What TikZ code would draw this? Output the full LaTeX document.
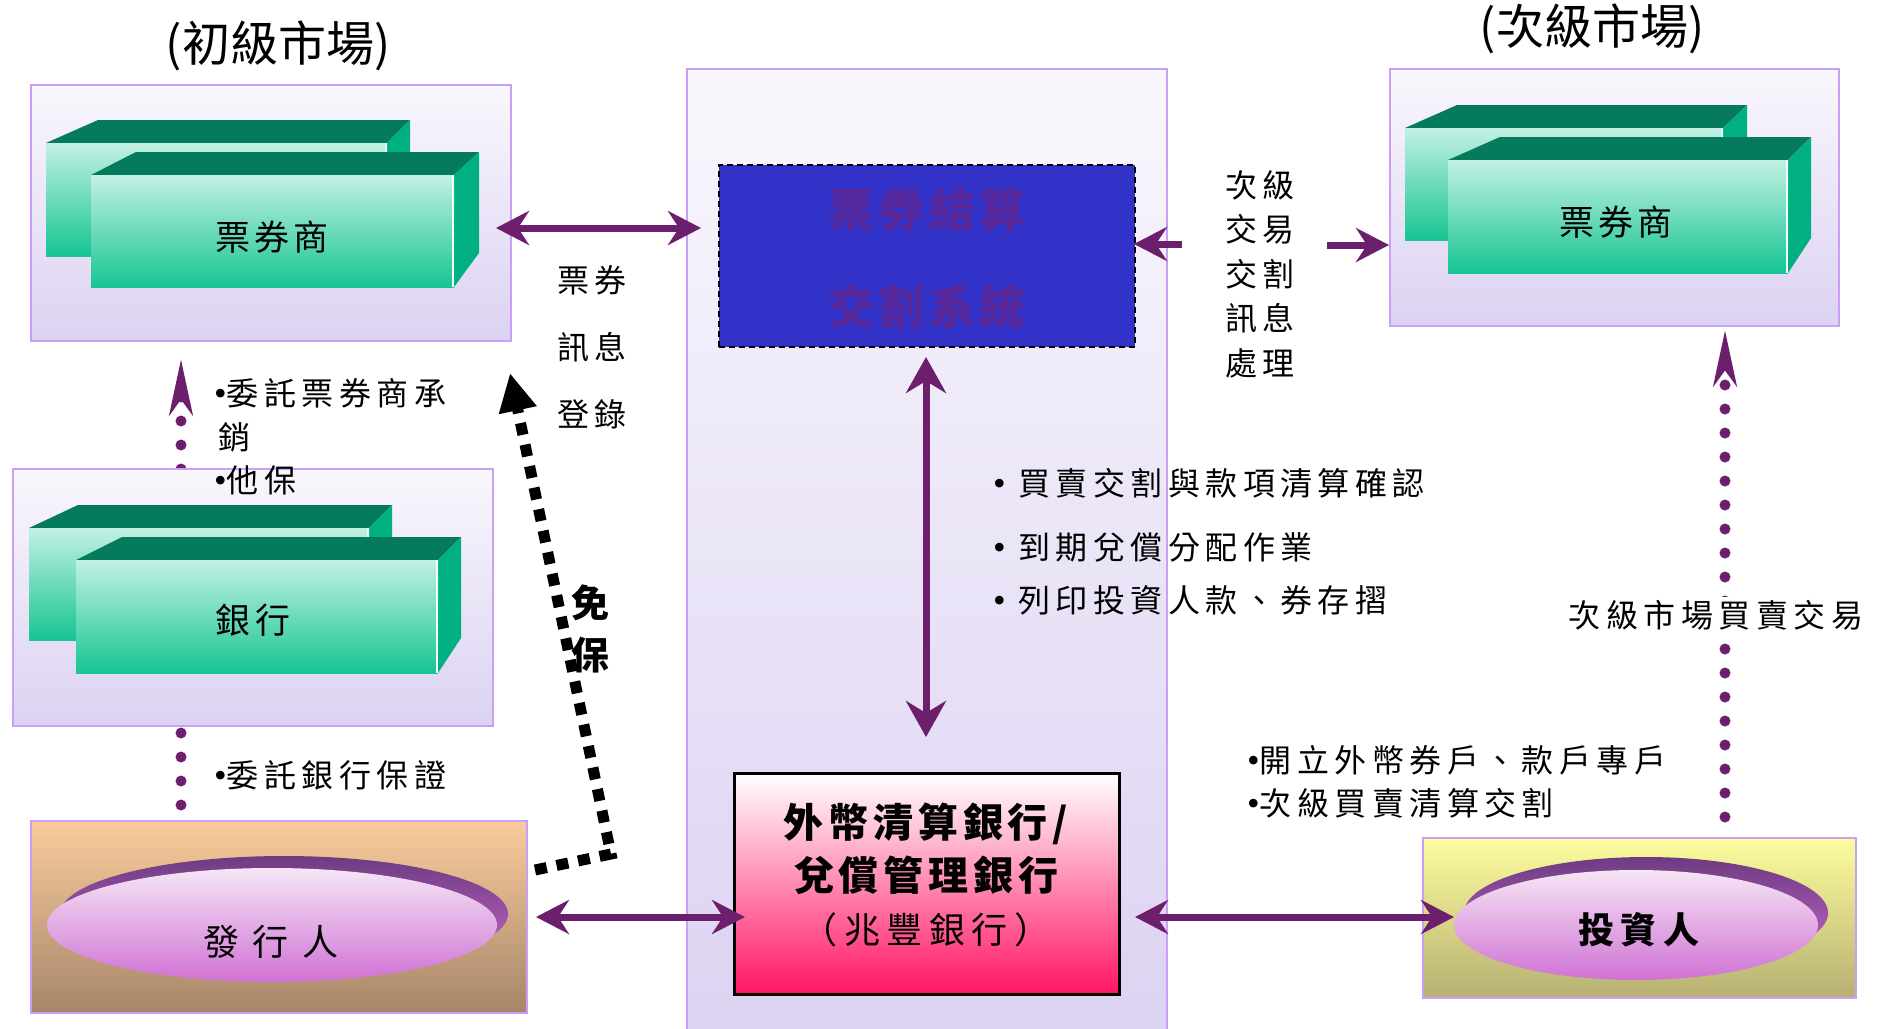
\documentclass[tikz,border=0pt]{standalone}
\usepackage{fontspec}
\setmainfont{Noto Sans CJK TC}
\newfontfamily\bulfont{Liberation Serif}
\newcommand{\bul}{{\bulfont\fontsize{36}{40}\selectfont •}}
\usetikzlibrary{arrows.meta,calc}
\definecolor{panelT}{HTML}{F9F7FD}
\definecolor{panelB}{HTML}{DCD2F2}
\definecolor{panelline}{HTML}{C9A0F5}
\definecolor{arrowc}{HTML}{6C1F6C}
\definecolor{bfrontT}{HTML}{C2F0E4}
\definecolor{bfrontM}{HTML}{96E0C8}
\definecolor{bfrontB}{HTML}{16C592}
\definecolor{btop}{HTML}{057A5C}
\definecolor{bside}{HTML}{00B083}
\definecolor{bluebox}{HTML}{3232C8}
\definecolor{bluetext}{HTML}{58289A}
\definecolor{peachT}{HTML}{FACC9C}
\definecolor{peachB}{HTML}{A6866A}
\definecolor{yelT}{HTML}{FDFD9E}
\definecolor{yelB}{HTML}{B6B072}
\definecolor{ellT}{HTML}{F5E6F5}
\definecolor{ellM}{HTML}{E6C2E8}
\definecolor{ellB}{HTML}{D072D4}
\definecolor{rimT}{HTML}{6E3C82}
\definecolor{rimB}{HTML}{C868CC}
\definecolor{redB}{HTML}{FF1466}
\newcommand{\gblock}[8]{%
  \fill[btop] (#1,#2) -- (#1+#5,#2-#7) -- (#3+#6,#2-#7) -- (#3,#2) -- cycle;
  \fill[bside] (#3,#2) -- (#3+#6,#2-#7) -- (#3+#6,#4-#8) -- (#3,#4) -- cycle;
  \shade[top color=bfrontT, middle color=bfrontM, bottom color=bfrontB] (#1,#2) rectangle (#3,#4);
  \draw[white!70!bfrontT, line width=1.5pt] (#3-1,#2) -- (#3-1,#4);
}
\begin{document}
\begin{tikzpicture}[x=1pt,y=-1pt,
  panel/.style={draw=panelline, line width=2pt, top color=panelT, bottom color=panelB, rectangle, inner sep=0pt, anchor=north west},
  lbl/.style={inner sep=0pt, font=\fontsize{32}{40}\selectfont\addfontfeatures{LetterSpace=17}},
  parrow/.style={draw=arrowc, line width=7pt, {Stealth[length=33pt,width=34pt,inset=11pt]}-{Stealth[length=33pt,width=34pt,inset=11pt]}},
  sarrow/.style={draw=arrowc, line width=7pt, -{Stealth[length=33pt,width=34pt,inset=11pt]}},
  dotline/.style={draw=arrowc, line width=11pt, line cap=round, dash pattern=on 0pt off 24pt, -{Stealth[length=55pt,width=22pt,inset=14pt]}},
  title/.style={inner sep=0pt, font=\fontsize{48}{54}\selectfont}
]
\useasboundingbox (0,0) rectangle (1878,1028);
\fill[white] (0,0) rectangle (1878,1028);

% titles
\node[title] (t1) at (278,46) {(初級市場)};
\node[title] (t2) at (1592,29) {(次級市場)};

% panels
\node[panel, minimum width=480pt, minimum height=256pt] (ptl) at (30,84) {};
\node[panel, minimum width=449pt, minimum height=257pt] (ptr) at (1389,68) {};
\node[panel, minimum width=480pt, minimum height=975pt] (pcen) at (686,68) {};

% dotted lines (behind bank / issuer)
\coordinate (dl1) at (181,829);
\coordinate (dl2) at (181,358);
\draw[dotline] (dl1) -- (dl2);
\coordinate (dr1) at (1725,817);
\coordinate (dr2) at (1725,329);
\draw[dotline] (dr1) -- (dr2);

\node[panel, minimum width=480pt, minimum height=257pt] (pbank) at (12,468) {};
\node[panel, top color=peachT, bottom color=peachB, minimum width=496pt, minimum height=192pt] (piss) at (30,820) {};
\node[panel, top color=yelT, bottom color=yelB, minimum width=433pt, minimum height=160pt] (pinv) at (1422,837) {};

% green blocks
\gblock{46}{143}{387}{256}{52}{23}{23}{34}
\gblock{91}{175}{454}{287}{45}{25}{23}{34}
\gblock{1405}{128}{1723}{240}{52}{24}{23}{34}
\gblock{1448}{160}{1788}{273}{52}{23}{23}{35}
\gblock{29}{528}{369}{640}{49}{23}{23}{34}
\gblock{76}{560}{438}{673}{46}{23}{23}{35}

% ellipses
\shade[top color=rimT, bottom color=rimB] (284,914) ellipse [x radius=224, y radius=58];
\shade[top color=ellT, middle color=ellM, bottom color=ellB] (272,925) ellipse [x radius=225, y radius=57];
\shade[top color=rimT, bottom color=rimB] (1646,913) ellipse [x radius=182, y radius=56];
\shade[top color=ellT, middle color=ellM, bottom color=ellB] (1636,925) ellipse [x radius=182, y radius=55];

% blue and red boxes
\node[rectangle, anchor=north west, fill=bluebox, draw=black, line width=1.5pt, dash pattern=on 6pt off 4pt, minimum width=416pt, minimum height=182pt, inner sep=0pt] (blue) at (718,164) {};
\node[rectangle, anchor=north west, top color=white, bottom color=redB, draw=black, line width=2.5pt, minimum width=385pt, minimum height=221pt, inner sep=0pt] (red) at (733,772) {};

% block texts
\node[inner sep=0pt, font=\fontsize{35}{40}\selectfont\addfontfeatures{LetterSpace=11}] (n1) at (272,237) {票券商};
\node[inner sep=0pt, font=\fontsize{35}{40}\selectfont\addfontfeatures{LetterSpace=11}] (n2) at (1616,222) {票券商};
\node[inner sep=0pt, font=\fontsize{35}{40}\selectfont\addfontfeatures{LetterSpace=12}] (n3) at (253,620) {銀行};
\node[inner sep=0pt, font=\fontsize{36}{40}\selectfont\addfontfeatures{LetterSpace=38}] (n4) at (271,942) {發行人};
\node[inner sep=0pt, font=\fontsize{36}{40}\selectfont\bfseries\addfontfeatures{LetterSpace=17}] (n5) at (1639,930) {投資人};
\node[inner sep=0pt, align=center, text=bluetext, font=\fontsize{46}{97}\selectfont\bfseries\addfontfeatures{LetterSpace=10}] (bt) at (927,258) {票券結算\\交割系統};
\node[inner sep=0pt, align=center, font=\fontsize{40}{53}\selectfont\bfseries\addfontfeatures{LetterSpace=12}] (rt) at (926,875) {外幣清算銀行/\\兌償管理銀行\\{\mdseries\fontsize{36}{53}\selectfont\addfontfeatures{LetterSpace=18}（兆豐銀行）}};

% arrows
\coordinate (a1) at (496,228);
\coordinate (a2) at (701,228);
\draw[parrow] (a1) -- (a2);
\coordinate (a3) at (1182,244);
\coordinate (a4) at (1134,244);
\draw[sarrow] (a3) -- (a4);
\coordinate (a5) at (1327,245);
\coordinate (a6) at (1389,245);
\draw[sarrow] (a5) -- (a6);
\coordinate (a7) at (926,357);
\coordinate (a8) at (926,737);
\draw[parrow, {Stealth[length=36pt,width=40pt,inset=12pt]}-{Stealth[length=36pt,width=40pt,inset=12pt]}] (a7) -- (a8);
\coordinate (a9) at (536,917);
\coordinate (a10) at (745,917);
\draw[parrow] (a9) -- (a10);
\coordinate (a11) at (1135,917);
\coordinate (a12) at (1454,917);
\draw[parrow] (a11) -- (a12);

% black dashed arrow
\coordinate (k1) at (535,870);
\coordinate (k2) at (611,854);
\coordinate (k3) at (510,373);
\draw[black, line width=11pt, dash pattern=on 12pt off 10pt, -{Triangle[length=38pt,width=36pt]}] (k1) -- (k2) -- (k3);
\node[inner sep=0pt, align=center, font=\fontsize{38}{52}\selectfont\bfseries] (mb) at (590,629) {免\\保};

% labels
\node[lbl, align=center, font=\fontsize{32}{67}\selectfont\addfontfeatures{LetterSpace=14}] (tq) at (592,347) {票券\\訊息\\登錄};
\node[lbl, align=center, font=\fontsize{32}{44.5}\selectfont\addfontfeatures{LetterSpace=14}] (tx) at (1260,274) {次級\\交易\\交割\\訊息\\處理};
\node[lbl, anchor=west] (b1) at (214,393) {\bul 委託票券商承};
\node[lbl, anchor=west] (b2) at (218,437) {銷};
\node[lbl, anchor=west] (b3) at (214,480) {\bul 他保};
\node[lbl, anchor=west] (b4) at (214,775) {\bul 委託銀行保證};
\node[lbl, anchor=west] (c1) at (993,483) {\bul\ 買賣交割與款項清算確認};
\node[lbl, anchor=west] (c2) at (993,547) {\bul\ 到期兌償分配作業};
\node[lbl, anchor=west] (c3) at (993,600) {\bul\ 列印投資人款、券存摺};
\node[lbl, anchor=west] (r1) at (1247,760) {\bul 開立外幣券戶、款戶專戶};
\node[lbl, anchor=west] (r2) at (1247,803) {\bul 次級買賣清算交割};
\node[lbl, fill=white, inner sep=3pt] (sm) at (1716,615) {次級市場買賣交易};
\end{tikzpicture}
\end{document}
